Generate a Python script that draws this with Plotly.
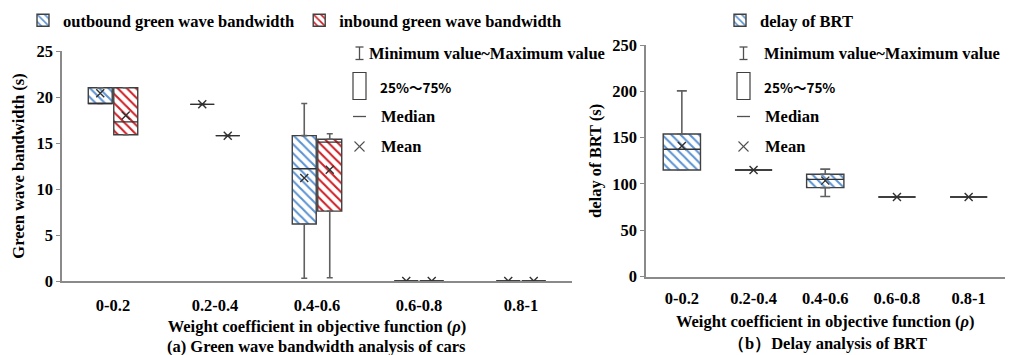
import plotly.graph_objects as go

W, H = 1011, 355

# ---------------- data ----------------
categories = ["0-0.2", "0.2-0.4", "0.4-0.6", "0.6-0.8", "0.8-1"]

out_min = [19.3, 19.2, 0.3, 0, 0]
out_q1 = [19.3, 19.2, 6.2, 0, 0]
out_median = [19.3, 19.2, 12.2, 0, 0]
out_q3 = [21.0, 19.2, 15.8, 0, 0]
out_max = [21.0, 19.2, 19.3, 0, 0]
out_mean = [20.4, 19.2, 11.2, 0, 0]

in_min = [15.9, 15.8, 0.35, 0, 0]
in_q1 = [15.9, 15.8, 7.6, 0, 0]
in_median = [17.3, 15.8, 15.1, 0, 0]
in_q3 = [21.0, 15.8, 15.4, 0, 0]
in_max = [21.0, 15.8, 16.0, 0, 0]
in_mean = [18.0, 15.8, 12.1, 0, 0]

brt_min = [115, 115, 86.5, 86, 86]
brt_q1 = [115, 115, 96, 86, 86]
brt_median = [137.5, 115, 105, 86, 86]
brt_q3 = [154, 115, 110.5, 86, 86]
brt_max = [200.5, 115, 116, 86, 86]
brt_mean = [141, 115, 103.6, 86, 86]

left_yticks = [0, 5, 10, 15, 20, 25]
right_yticks = [0, 50, 100, 150, 200, 250]

# ---------------- style ----------------
SERIF = "Liberation Serif"
FONT = dict(family=SERIF, size=16.5, color="black")
EDGE = "#404040"
AXIS = "#8a8a8a"
BLUE = "#5b93d3"
RED = "#cf1f25"


def b(s):
    return f"<b>{s}</b>"


def px_x(x):
    return x / W


def px_y(y):
    return 1 - y / H


def sub(a, c):
    return [u - v for u, v in zip(a, c)]


zeros = [0] * len(categories)

fig = go.Figure()


def add_boxes(name, q1, med, q3, mn, mx, mean, color, xa, ya, group, legend,
              half_width, cap, width=None):
    extra = {} if width is None else {"width": width}
    # box body (hatched) with upper whisker
    fig.add_trace(go.Bar(
        name=b(name), x=categories, y=sub(q3, q1), base=q1,
        xaxis=xa, yaxis=ya, offsetgroup=group, legend=legend,
        marker=dict(color=color, line=dict(color=EDGE, width=1.4),
                    pattern=dict(shape="\\", fgcolor=color, bgcolor="white",
                                 size=6.5, solidity=0.32, fillmode="replace")),
        error_y=dict(type="data", symmetric=False, array=sub(mx, q3),
                     arrayminus=zeros, color="#606060", thickness=1.6, width=cap),
        hoverinfo="skip", **extra))
    # lower whisker
    fig.add_trace(go.Bar(
        x=categories, y=zeros, base=q1, xaxis=xa, yaxis=ya, offsetgroup=group,
        showlegend=False, marker=dict(color="rgba(0,0,0,0)", line=dict(width=0)),
        error_y=dict(type="data", symmetric=False, array=zeros,
                     arrayminus=sub(q1, mn), color="#606060", thickness=1.6, width=cap),
        hoverinfo="skip", **extra))
    # median line
    fig.add_trace(go.Bar(
        x=categories, y=zeros, base=med, xaxis=xa, yaxis=ya, offsetgroup=group,
        showlegend=False, marker=dict(color="rgba(0,0,0,0)", line=dict(width=0)),
        error_y=dict(type="data", symmetric=True, array=zeros,
                     color="#303030", thickness=1.4, width=half_width),
        hoverinfo="skip", **extra))
    # mean marker
    fig.add_trace(go.Scatter(
        x=categories, y=mean, xaxis=xa, yaxis=ya, offsetgroup=group,
        mode="markers", showlegend=False,
        marker=dict(symbol="x-thin", size=8, line=dict(color="#303030", width=1.4)),
        hoverinfo="skip"))


add_boxes("outbound green wave bandwidth", out_q1, out_median, out_q3, out_min,
          out_max, out_mean, BLUE, "x", "y", "out", "legend", 12, 3)
add_boxes("inbound green wave bandwidth", in_q1, in_median, in_q3, in_min,
          in_max, in_mean, RED, "x", "y", "in", "legend", 12, 3)
add_boxes("delay of BRT", brt_q1, brt_median, brt_q3, brt_min, brt_max,
          brt_mean, BLUE, "x2", "y2", "brt", "legend2", 18.5, 5, width=0.52)

# ---------------- key panels (shapes + text) ----------------
shapes = []
annotations = []


def line(x0, y0, x1, y1, w=1.3, c="#505050"):
    shapes.append(dict(type="line", xref="paper", yref="paper",
                       x0=px_x(x0), y0=px_y(y0), x1=px_x(x1), y1=px_y(y1),
                       line=dict(color=c, width=w)))


def text(x, y, s, font, xanchor="left"):
    annotations.append(dict(xref="paper", yref="paper", x=px_x(x), y=px_y(y),
                            text=s, showarrow=False, xanchor=xanchor,
                            yanchor="middle", font=font))


def key(gx, tx, tx2):
    # whisker glyph
    line(gx, 47, gx, 59.5)
    line(gx - 4, 47, gx + 4, 47)
    line(gx - 4, 59.5, gx + 4, 59.5)
    text(tx, 53.3, b("Minimum value~Maximum value"), FONT)
    # box glyph
    shapes.append(dict(type="rect", xref="paper", yref="paper",
                       x0=px_x(gx - 6.5), x1=px_x(gx + 6.5),
                       y0=px_y(99.5), y1=px_y(72.5),
                       line=dict(color="#404040", width=1.2), fillcolor="white"))
    text(tx2 - 1, 86.5, b("25%～75%"),
         dict(family="Noto Sans CJK SC", size=13.5, color="black"))
    # median glyph
    line(gx - 6.5, 116.5, gx + 6.5, 116.5, w=1.3)
    text(tx2, 116.5, b("Median"), FONT)
    # mean glyph
    line(gx - 5, 141.5, gx + 5, 151.5, w=1.1)
    line(gx - 5, 151.5, gx + 5, 141.5, w=1.1)
    text(tx2, 146.5, b("Mean"), FONT)


key(359.5, 367, 379)
key(743.5, 762, 763)

# subtitles
text(316.5, 346, b("(a) Green wave bandwidth analysis of cars"), FONT, xanchor="center")
text(827, 343.5, b("（b）Delay analysis of BRT"), FONT, xanchor="center")

XTITLE = b("Weight coefficient in objective function (<i>ρ</i>)")

xcommon = dict(type="category", range=[-0.5, 4.5], showline=True, linecolor=AXIS,
               linewidth=2, ticks="", showgrid=False, zeroline=False,
               tickfont=FONT, automargin=False, layer="below traces",
               tickvals=categories, ticktext=[b(c) for c in categories])
ycommon = dict(showline=True, linecolor=AXIS, linewidth=1.5, ticks="outside",
               ticklen=4, tickcolor=AXIS, tickwidth=1, showgrid=False,
               zeroline=False, tickfont=FONT, automargin=False)

fig.update_layout(
    width=W, height=H, margin=dict(l=0, r=0, t=0, b=0),
    paper_bgcolor="white", plot_bgcolor="white",
    font=dict(family=SERIF),
    barmode="group", bargap=0.5, bargroupgap=0.06, scattermode="group",
    scattergap=0.5,
    xaxis=dict(domain=[px_x(62), px_x(572)], anchor="y", ticklabelstandoff=8,
               title=dict(text=XTITLE, font=FONT, standoff=7), **xcommon),
    yaxis=dict(domain=[px_y(281), px_y(51)], anchor="x", range=[0, 25],
               tickvals=left_yticks, ticktext=[b(v) for v in left_yticks],
               title=dict(text=b("Green wave bandwidth (s)"), font=FONT, standoff=8),
               **ycommon),
    xaxis2=dict(domain=[px_x(646), px_x(1004.5)], anchor="y2", ticklabelstandoff=6,
                title=dict(text=XTITLE, font=FONT, standoff=8), **xcommon),
    yaxis2=dict(domain=[px_y(276.6), px_y(45)], anchor="x2", range=[0, 250],
                tickvals=right_yticks, ticktext=[b(v) for v in right_yticks],
                title=dict(text=b("delay of BRT (s)"), font=FONT, standoff=6),
                **ycommon),
    legend=dict(orientation="h", x=px_x(23), y=px_y(3), xanchor="left",
                yanchor="top", font=FONT, bgcolor="rgba(0,0,0,0)",
                itemwidth=30, traceorder="normal"),
    legend2=dict(orientation="h", x=px_x(720), y=px_y(3), xanchor="left",
                 yanchor="top", font=FONT, bgcolor="rgba(0,0,0,0)", itemwidth=30),
    shapes=shapes, annotations=annotations,
)

fig.write_html("out.html")
